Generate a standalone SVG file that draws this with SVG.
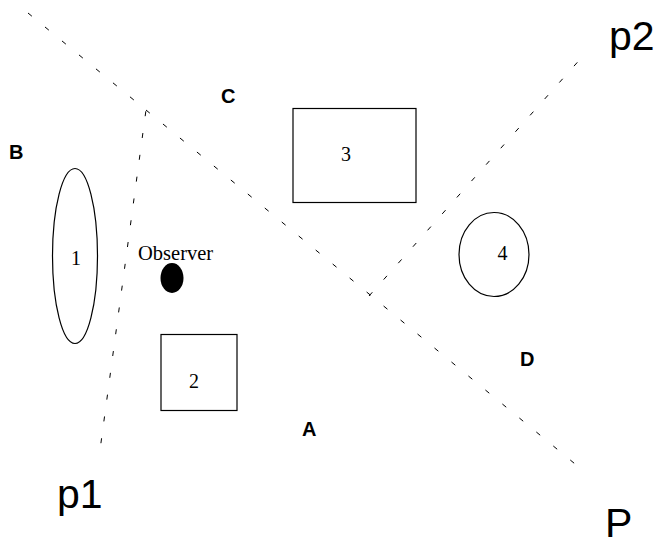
<svg xmlns="http://www.w3.org/2000/svg" width="661" height="544" viewBox="0 0 661 544">
<style>
.dash{fill:none;stroke:#000;stroke-width:1;stroke-dasharray:5 17}
.shape{fill:none;stroke:#000;stroke-width:1.2}
.num{font-family:"Liberation Serif","Times New Roman",serif;font-size:20px;fill:#000;text-anchor:middle}
.lbl{font-family:"Liberation Sans",Arial,sans-serif;font-weight:bold;font-size:20px;fill:#000}
.big{font-family:"Liberation Sans",Arial,sans-serif;font-size:41px;fill:#000}
</style>
<rect width="661" height="544" fill="#fff"/>
<g id="connectors">
<path class="dash" d="M28,13 L146,110 L100,450"/>
<path class="dash" d="M146,110 L586,473"/>
<path class="dash" d="M369,296 L583,56"/>
</g>
<g id="obj1"><ellipse class="shape" cx="75" cy="256" rx="22.5" ry="87.5"/><text class="num" x="76" y="265">1</text></g>
<g id="obj2"><rect class="shape" x="161" y="334.5" width="76" height="76"/><text class="num" x="194" y="388">2</text></g>
<g id="obj3"><rect class="shape" x="293" y="108.5" width="123" height="94"/><text class="num" x="346" y="161">3</text></g>
<g id="obj4"><ellipse class="shape" cx="494" cy="254.5" rx="35" ry="42"/><text class="num" x="502.5" y="260">4</text></g>
<g id="observer"><ellipse cx="172" cy="278" rx="11.5" ry="15" fill="#000"/><text x="138" y="260" font-family="'Liberation Serif','Times New Roman',serif" font-size="20.5" fill="#000">Observer</text></g>
<g id="labels">
<text class="lbl" x="9" y="159">B</text>
<text class="lbl" x="221" y="103">C</text>
<text class="lbl" x="302" y="436">A</text>
<text class="lbl" x="520" y="366">D</text>
<text class="big" x="57" y="508">p1</text>
<text class="big" x="609" y="50">p2</text>
<text class="big" x="605" y="537" font-size="40">P</text>
</g>
</svg>
